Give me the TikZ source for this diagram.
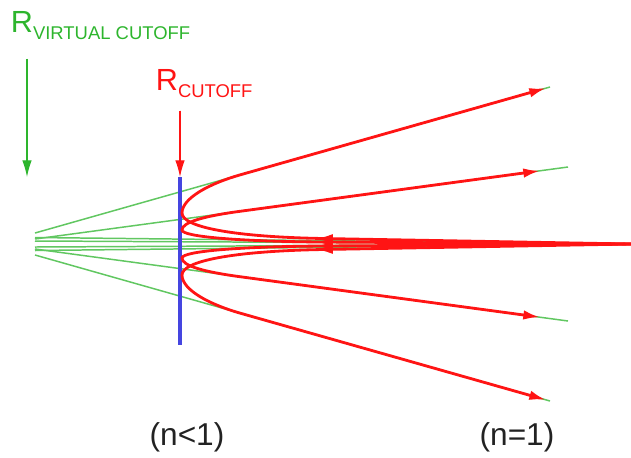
\documentclass[tikz,border=0pt]{standalone}
\usepackage{fontspec}
\setmainfont{Liberation Sans}
\usetikzlibrary{arrows.meta,decorations.markings}
\definecolor{cVirt}{HTML}{2DB52D}
\definecolor{cCut}{HTML}{FF1414}
\definecolor{cWall}{HTML}{4545E0}
\definecolor{cInk}{HTML}{222222}
\newcommand{\lowsub}[2]{\lower#1\hbox{\fontsize{10.5}{12}\selectfont #2}}

\begin{document}
\begin{tikzpicture}[
  x=0.02cm, y=-0.02cm,
  endtip/.style={-{Latex[length=9.5pt,width=5.4pt]}},
  asym/.style={draw=cVirt!75, line width=.85pt},
  wall/.style={draw=cWall, line width=1.8pt},
  droparr/.style={endtip, line width=.6pt},
  ray/.style={draw=cCut, line width=1.6pt, endtip,
              postaction={decorate},
              decoration={markings,
                mark=at position 6.3cm with {\arrow{Latex[length=9.5pt,width=5.4pt]}}}},
  lbl/.style={inner sep=0pt, font=\fontsize{17.4}{20}\selectfont},
  regime/.style={inner sep=0pt, text=cInk, font=\fontsize{18}{21}\selectfont},
]
\useasboundingbox (0,0) rectangle (631,457);

% ---------------- asymptotes ----------------
\draw[asym] (35,233) -- (550,87);
\draw[asym] (35,239) -- (568,167);
\draw[asym] (35,249) -- (568,321);
\draw[asym] (35,255) -- (550,401);
\foreach \y in {237.5,241,247,250.5}
  \draw[asym] (35,\y) -- (631,244);

% ---------------- cutoff surface ----------------
\coordinate (wtop) at (180,177);
\coordinate (wbot) at (180,345);
\coordinate (vtip) at (27,177);
\draw[wall] (wtop) -- (wbot);

% ---------------- rays ----------------
\draw[ray] (631,244) -- (323,238.5) .. controls (233,236.9) and (182,227) .. (182,213)
  .. controls (182,198) and (210,183.4) .. (240,174.9) -- (546,88.1);
\draw[ray] (631,244) -- (323,242) .. controls (243,241.5) and (182,237) .. (182,230)
  .. controls (182,222) and (205,216.0) .. (240,211.3) -- (540,170.8);
\draw[ray] (631,244) -- (323,246) .. controls (243,246.5) and (182,251) .. (182,258)
  .. controls (182,266) and (205,272.0) .. (240,276.7) -- (540,317.2);
\draw[ray] (631,244) -- (323,249.5) .. controls (233,251.1) and (182,261) .. (182,275)
  .. controls (182,290) and (210,304.6) .. (240,313.1) -- (546,399.9);

% ---------------- labels ----------------
\node[lbl, text=cVirt, anchor=base west] (virt) at (10.6,32)
  {R\lowsub{4pt}{VIRTUAL CUTOFF}};
\node[lbl, text=cCut, anchor=base west] (cut) at (155.6,90)
  {R\lowsub{4.5pt}{CUTOFF}};
\draw[droparr, draw=cVirt, fill=cVirt, shorten <=11pt] (virt.south -| vtip) -- (vtip);
\draw[droparr, draw=cCut, fill=cCut, shorten <=7pt] (cut.south -| wtop) -- (wtop);

\node[regime] (inner) at (187,437.5) {(n<1)};
\node[regime] (outer) at (517,437.5) {(n=1)};

\end{tikzpicture}
\end{document}
